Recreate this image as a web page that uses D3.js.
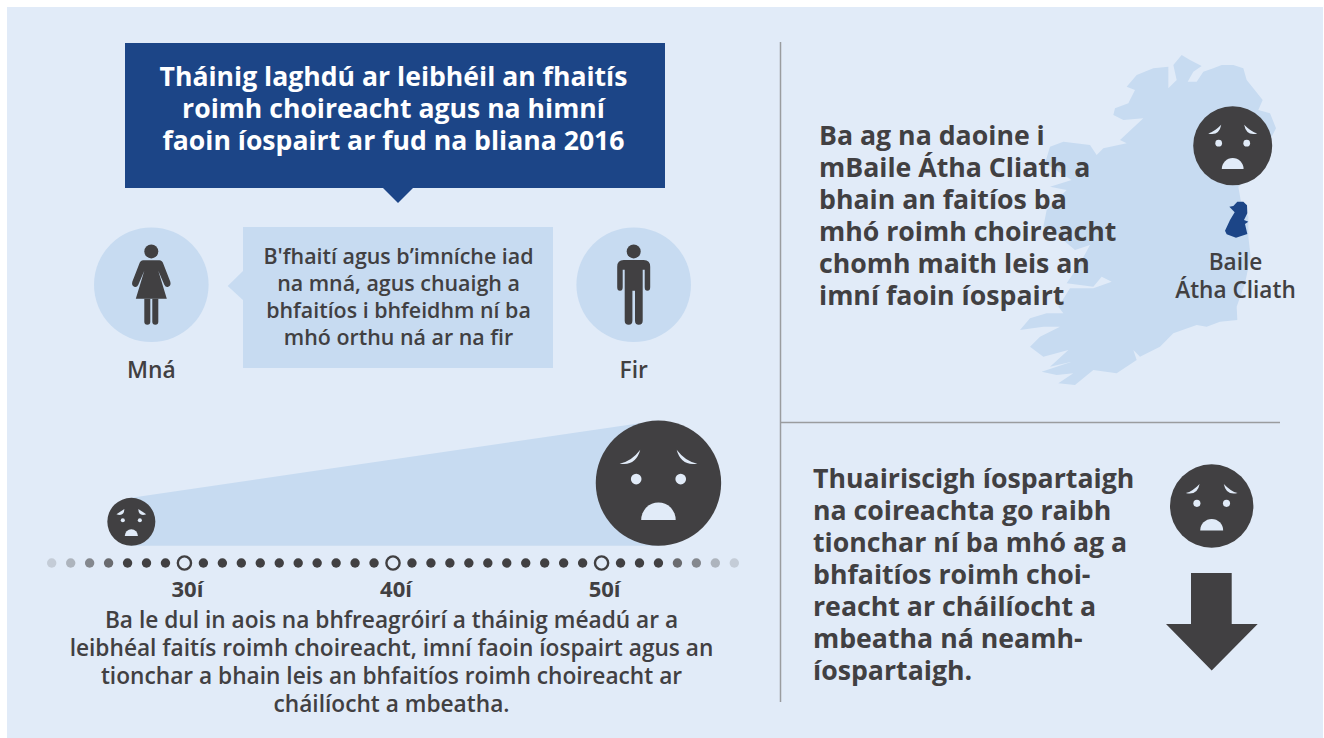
<!DOCTYPE html>
<html><head><meta charset="utf-8">
<script src="https://cdn.jsdelivr.net/npm/d3@7"></script>
<style>html,body{margin:0;padding:0;background:#fff}svg{display:block}text{font-family:"Open Sans",sans-serif}</style>
</head><body><div id="c"></div>
<script>
const titleLines = ["Tháinig laghdú ar leibhéil an fhaitís","roimh choireacht agus na himní","faoin íospairt ar fud na bliana 2016"];
const calloutLines = ["B'fhaití agus b’imníche iad","na mná, agus chuaigh a","bhfaitíos i bhfeidhm ní ba","mhó orthu ná ar na fir"];
const genderLabels = ["Mná","Fir"];
const dublinLines = ["Ba ag na daoine i","mBaile Átha Cliath a","bhain an faitíos ba","mhó roimh choireacht","chomh maith leis an","imní faoin íospairt"];
const dublinLabel = ["Baile","Átha Cliath"];
const victimLines = ["Thuairiscigh íospartaigh","na coireachta go raibh","tionchar ní ba mhó ag a","bhfaitíos roimh choi-","reacht ar cháilíocht a","mbeatha ná neamh-","íospartaigh."];
const ageLines = ["Ba le dul in aois na bhfreagróirí a tháinig méadú ar a","leibhéal faitís roimh choireacht, imní faoin íospairt agus an","tionchar a bhain leis an bhfaitíos roimh choireacht ar","cháilíocht a mbeatha."];
const dotIndex = d3.range(37);
const dotFade = [0.18,0.32,0.58,0.75,1,1,1,1,1,1,1,1,1,1,1,1,1,1,1,1,1,1,1,1,1,1,1,1,1,1,1,1,1,0.75,0.58,0.32,0.18];
const ageTicks = [{i:7,label:"30í"},{i:18,label:"40í"},{i:29,label:"50í"}];
const wedgeFaces = [{i:4.2,r:24},{i:32,r:62.7}];
const irelandOutline = [[545,15],[570,30],[605,48],[580,65],[563,95],[590,95],[610,65],[640,55],[665,45],[700,45],[730,55],[740,90],[760,115],[788,150],[775,180],[810,190],[828,235],[805,280],[790,320],[760,370],[715,410],[722,450],[745,500],[745,560],[752,620],[735,700],[710,770],[712,810],[660,815],[620,830],[590,825],[520,850],[480,890],[420,920],[400,900],[410,930],[350,970],[280,960],[225,1005],[175,1000],[220,970],[170,975],[125,965],[215,935],[150,950],[205,900],[130,920],[90,890],[120,860],[180,830],[130,830],[60,840],[90,805],[140,790],[190,790],[175,770],[210,715],[280,715],[335,695],[305,680],[280,710],[200,700],[240,640],[270,585],[225,600],[160,545],[130,530],[140,480],[200,420],[150,410],[215,390],[135,340],[150,290],[190,275],[270,285],[290,315],[310,295],[380,280],[360,270],[430,205],[370,210],[340,195],[345,175],[385,160],[405,120],[380,110],[410,75],[460,55],[505,50],[505,115],[530,90],[520,45]];
const dublinOutline = [[688,470],[700,468],[712,455],[730,455],[741,466],[742,490],[732,510],[745,515],[735,522],[742,552],[708,563],[680,553],[675,542],[690,510],[704,487]];

const DARK="#414042",BG="#e1ebf8",MID="#c7dbf1",BLUE="#1c4587";
const svg=d3.select("#c").append("svg").attr("width",1324).attr("height",738);
svg.append("rect").attr("x",7).attr("y",7).attr("width",1316).attr("height",731).attr("fill",BG);

const lineGen=d3.line();
function poly(pts,fill,p=svg){return p.append("path").attr("d",lineGen(pts)+"Z").attr("fill",fill);}
function textBlock(lines,x,y,dy,size,weight,anchor,fill){
  svg.append("g").selectAll("text").data(lines).join("text")
    .attr("x",x).attr("y",(d,i)=>y+i*dy).attr("font-size",size).attr("font-weight",weight)
    .attr("text-anchor",anchor).attr("fill",fill).text(d=>d);
}
function face(cx,cy,r){
  const g=svg.append("g").attr("transform",`translate(${cx},${cy}) scale(${r})`);
  const t=4.6/r;
  g.append("circle").attr("r",1).attr("fill",DARK);
  [-1,1].forEach(s=>{
    g.append("path").attr("d",`M${s*0.62},-0.31 Q${s*(0.40-t/2)},${-0.30+t/2} ${s*0.29},-0.53 Q${s*(0.40+t/2)},${-0.30-t/2} ${s*0.62},-0.31Z`).attr("fill",BG);
    g.append("circle").attr("cx",s*0.355).attr("cy",-0.064).attr("r",0.085).attr("fill",BG);
  });
  g.append("path").attr("d","M-0.275,0.587A0.275,0.277 0 0 1 0.275,0.587Z").attr("fill",BG);
}

// Title banner
svg.append("rect").attr("x",125).attr("y",43).attr("width",540).attr("height",145).attr("fill",BLUE);
poly([[382,187],[414,187],[398,203]],BLUE);
textBlock(titleLines,393.5,86,32,26.6,700,"middle","#fff");

// Gender
const genderX=d3.scalePoint().domain(genderLabels).range([151.3,633.7]);
svg.append("g").selectAll("circle").data(genderLabels).join("circle")
  .attr("cx",d=>genderX(d)).attr("cy",284.7).attr("r",57.3).attr("fill",MID);
svg.append("g").selectAll("text").data(genderLabels).join("text")
  .attr("x",d=>genderX(d)).attr("y",378).attr("font-size",22.8).attr("font-weight",600)
  .attr("text-anchor","middle").attr("fill",DARK).text(d=>d);
// callout
svg.append("rect").attr("x",243).attr("y",227).attr("width",310).attr("height",141).attr("fill",MID);
poly([[244,270],[227.7,286],[244,301]],MID);
textBlock(calloutLines,398.5,264,27,21.4,600,"middle",DARK);

// woman
const w=svg.append("g").attr("transform",`translate(${genderX("Mná")},284.7)`).attr("fill",DARK);
w.append("circle").attr("cy",-33.3).attr("r",7);
w.append("path").attr("d","M-8,-24.5H8Q11,-24.5 12,-21L19,-3Q20,1 17,2Q14.500,3 13,0L7,-14L15.500,14H-15.500L-7,-14L-13,0Q-14.500,3 -17,2Q-20,1 -19,-3L-12,-21Q-11,-24.5 -8,-24.5Z");
w.append("path").attr("d","M-7,14H-1V37Q-1,40 -4,40Q-7,40 -7,37Z");
w.append("path").attr("d","M1,14H7V37Q7,40 4,40Q1,40 1,37Z");
// man
const m=svg.append("g").attr("transform",`translate(${genderX("Fir")},284.7)`).attr("fill",DARK);
m.append("circle").attr("cy",-33.3).attr("r",7);
m.append("path").attr("d","M-10,-24.7H10Q16.500,-24.7 16.500,-18V2.500Q16.500,6 13.700,6Q11,6 11,2.500V-15H9V36Q9,40 5,40Q1.300,40 1.300,36V6H-1.300V36Q-1.300,40 -5,40Q-9,40 -9,36V-15H-11V2.500Q-11,6 -13.700,6Q-16.500,6 -16.500,2.500V-18Q-16.500,-24.700 -10,-24.700Z");

// Age wedge
const xIdx=d3.scaleLinear().domain([0,36]).range([51.7,734.3]);
const baseY=545.8;
svg.append("path").datum(wedgeFaces).attr("fill",MID)
  .attr("d",d3.area().x(d=>xIdx(d.i)).y0(baseY).y1(d=>baseY-2*d.r));
wedgeFaces.forEach(f=>face(xIdx(f.i),baseY-f.r,f.r));
// timeline
const tickSet=new Set(ageTicks.map(d=>d.i));
svg.append("g").selectAll("circle").data(dotIndex).join("circle")
  .attr("cx",d=>xIdx(d)).attr("cy",563)
  .attr("r",d=>tickSet.has(d)?6.6:4.7)
  .attr("fill",d=>tickSet.has(d)?BG:DARK)
  .attr("fill-opacity",d=>tickSet.has(d)?1:dotFade[d])
  .attr("stroke",d=>tickSet.has(d)?DARK:"none")
  .attr("stroke-width",2.4);
svg.append("g").selectAll("text").data(ageTicks).join("text")
  .attr("x",d=>xIdx(d.i)+3).attr("y",597).attr("font-size",22).attr("font-weight",700)
  .attr("text-anchor","middle").attr("fill",DARK).text(d=>d.label);
textBlock(ageLines,391.5,628,28,22.7,600,"middle",DARK);

// Dividers
svg.append("line").attr("x1",780.5).attr("x2",780.5).attr("y1",42).attr("y2",702).attr("stroke","#9a9c9f").attr("stroke-width",1.5);
svg.append("line").attr("x1",780).attr("x2",1280).attr("y1",422.5).attr("y2",422.5).attr("stroke","#9a9c9f").attr("stroke-width",1.5);

// Map
const mx=d3.scaleLinear().domain([0,960]).range([1000,1320]);
const my=d3.scaleLinear().domain([0,1020]).range([50,390]);
const project=p=>[mx(p[0]),my(p[1])];
svg.append("path").attr("d",d3.line().curve(d3.curveLinearClosed)(irelandOutline.map(project))).attr("fill",MID);
svg.append("path").attr("d",d3.line().curve(d3.curveLinearClosed)(dublinOutline.map(project))).attr("fill",BLUE);
face(1232.7,145.7,39.5);
textBlock(dublinLines,819,145,32,26.7,700,"start",DARK);
textBlock(dublinLabel,1235.5,270,27.5,22.6,600,"middle",DARK);

// Victims
textBlock(victimLines,813,488,32,26.7,700,"start",DARK);
face(1211.7,506,41.7);
poly([[1191,573],[1231.7,573],[1231.7,624],[1257.7,624],[1211.7,670.500],[1166,624],[1191,624]],DARK);
</script></body></html>
